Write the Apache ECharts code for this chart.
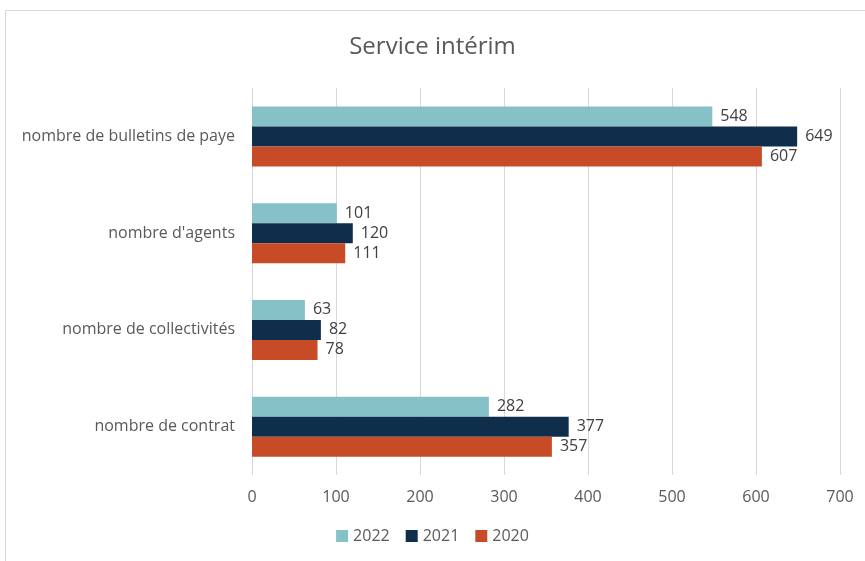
<!DOCTYPE html>
<html>
<head>
<meta charset="utf-8">
<script src="https://cdn.jsdelivr.net/npm/echarts@6/dist/echarts.min.js"></script>
<style>
  html, body { margin: 0; padding: 0; background: #fff; }
  #frame { position: absolute; left: 5px; top: 10px; width: 870px; height: 570px; border: 1px solid #d9d9d9; box-sizing: border-box; }
  #main { position: absolute; left: 0; top: 0; width: 865px; height: 561px; }
</style>
</head>
<body>
<div id="frame"></div>
<div id="main"></div>
<script>
var categories = ['nombre de bulletins de paye', "nombre d'agents", 'nombre de collectivités', 'nombre de contrat'];
var years = ['2022', '2021', '2020'];
var values2022 = [548, 101, 63, 282];
var values2021 = [649, 120, 82, 377];
var values2020 = [607, 111, 78, 357];
var xTicks = [0, 100, 200, 300, 400, 500, 600, 700];
var colors = ['#87c1c8', '#0f2e4c', '#c84b27'];

var font = '"Open Sans", "Noto Sans", sans-serif';

function makeSeries(name, data, color) {
    return {
        name: name,
        type: 'bar',
        data: data,
        barWidth: 20,
        barGap: '0%',
        itemStyle: { color: color },
        label: {
            show: true,
            position: 'right',
            distance: 8,
            color: '#404040',
            fontSize: 16,
            fontFamily: font
        }
    };
}

var myChart = echarts.init(document.getElementById('main'));
var option = {
    animation: false,
    title: {
        text: 'Service intérim',
        left: 'center',
        top: 30,
        textStyle: { color: '#595959', fontSize: 24, fontWeight: 'normal', fontFamily: font }
    },
    legend: {
        data: years,
        bottom: 12,
        left: 'center',
        itemWidth: 12,
        itemHeight: 12,
        itemGap: 16,
        icon: 'rect',
        textStyle: { color: '#595959', fontSize: 16, fontFamily: font }
    },
    grid: {
        left: 252,
        right: 25,
        top: 88,
        bottom: 86
    },
    xAxis: {
        type: 'value',
        min: 0,
        max: 700,
        interval: 100,
        axisLine: { show: false },
        axisTick: { show: false },
        splitLine: { lineStyle: { color: '#d9d9d9' } },
        axisLabel: {
            color: '#595959', fontSize: 16, fontFamily: font, margin: 14,
            formatter: function (v) { return xTicks.indexOf(v) >= 0 ? String(v) : ''; }
        }
    },
    yAxis: {
        type: 'category',
        inverse: true,
        data: categories,
        axisLine: { show: false },
        axisTick: { show: false },
        axisLabel: { color: '#595959', fontSize: 16, fontFamily: font, margin: 17 }
    },
    series: [
        makeSeries(years[0], values2022, colors[0]),
        makeSeries(years[1], values2021, colors[1]),
        makeSeries(years[2], values2020, colors[2])
    ]
};
myChart.setOption(option);
</script>
</body>
</html>
